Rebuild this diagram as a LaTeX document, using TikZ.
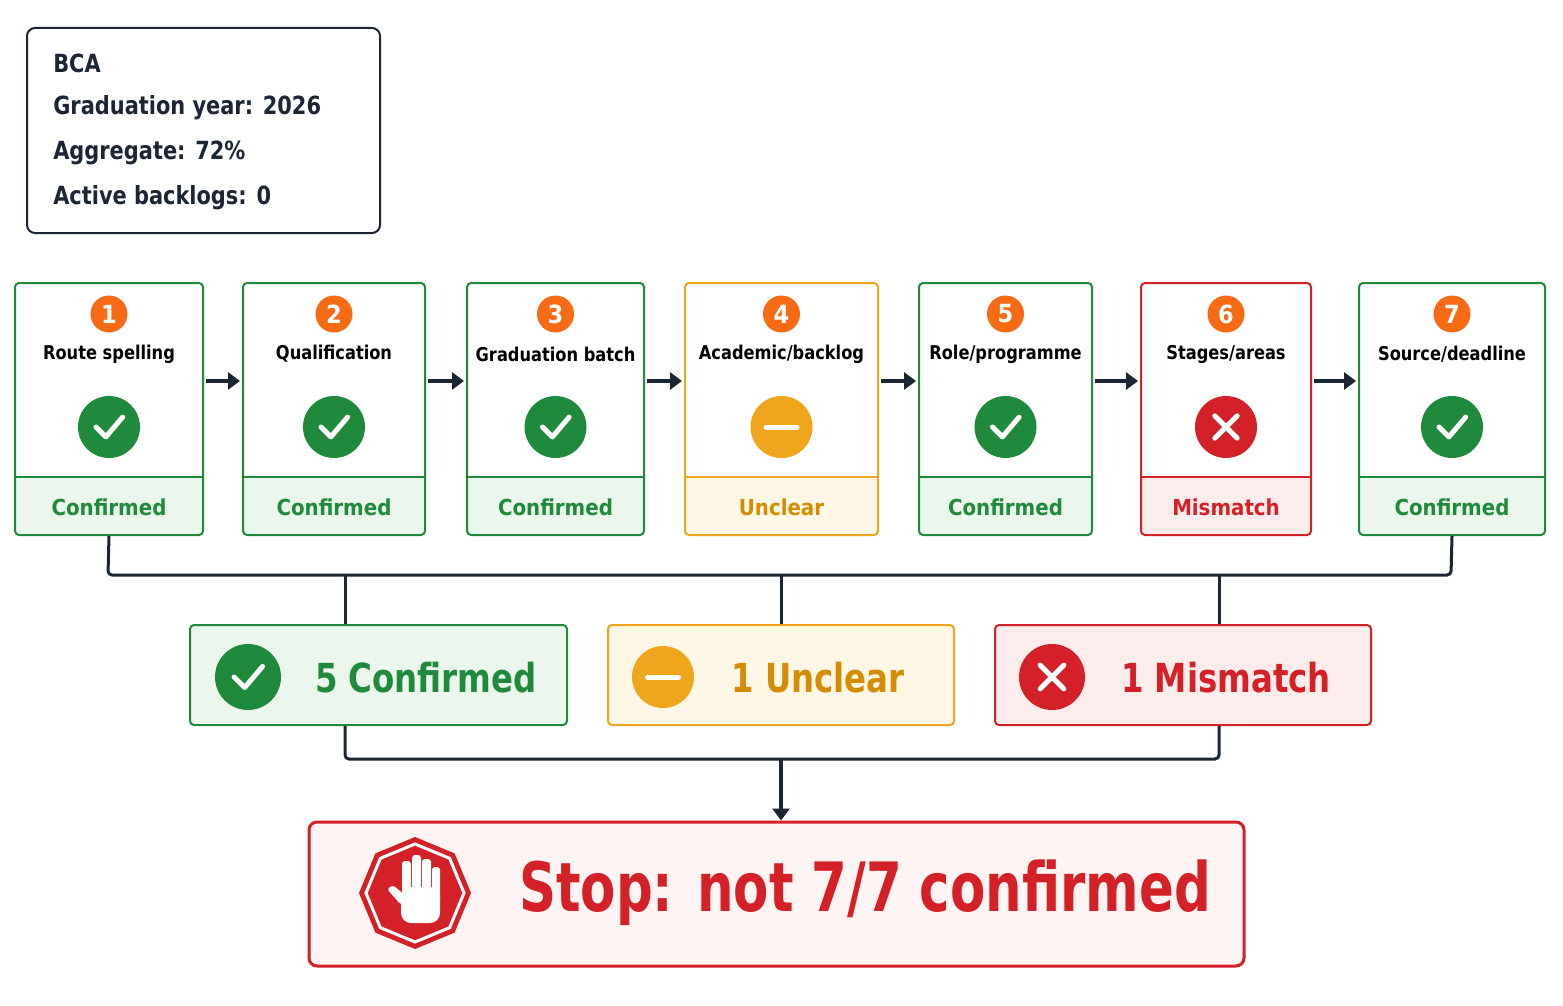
\documentclass[tikz,border=0pt]{standalone}
\usepackage{fontspec}
\setmainfont{DejaVu Sans Condensed}
\usetikzlibrary{arrows.meta,shapes.geometric,calc}
\definecolor{gr}{HTML}{1F8A3B}
\definecolor{grl}{HTML}{EBF6EC}
\definecolor{yl}{HTML}{EFA51C}
\definecolor{ylt}{HTML}{D48C00}
\definecolor{yll}{HTML}{FFF7E6}
\definecolor{rd}{HTML}{D42027}
\definecolor{rdl}{HTML}{FDECEC}
\definecolor{og}{HTML}{F76B15}
\definecolor{nv}{HTML}{1C2533}
\tikzset{
 step/.style={draw=#1,line width=2pt,rounded corners=4pt},
 num/.style={circle,fill=og,text=white,minimum size=37pt,inner sep=0pt,font=\fontsize{25}{25}\selectfont\bfseries},
 ttl/.style={font=\fontsize{19}{19}\selectfont\bfseries,text=black,xscale=0.95},
 stat/.style={font=\fontsize{22}{22}\selectfont\bfseries,text=#1},
 sumt/.style={font=\fontsize{40}{40}\selectfont\bfseries,text=#1,xscale=0.9},
 ico/.style 2 args={circle,fill=#1,minimum size=#2,inner sep=0pt},
 conn/.style={draw=nv,line width=3pt},
 arr/.style={draw=nv,line width=3.5pt,-{Triangle[length=12pt,width=17pt]}}}
\newcommand\unicon[3]{\node[ico={yl}{#3}] (#2) at #1 {};
 \draw[white,line width=5pt,line cap=round] ($(#2)+(-0.25*#3,0)$) -- ($(#2)+(0.25*#3,0)$);}
\newcommand\xicon[3]{\node[ico={rd}{#3}] (#2) at #1 {};
 \draw[white,line width=5pt,line cap=round] ($(#2)+(-0.18*#3,-0.18*#3)$) -- ($(#2)+(0.18*#3,0.18*#3)$) ($(#2)+(-0.18*#3,0.18*#3)$) -- ($(#2)+(0.18*#3,-0.18*#3)$);}
\newcommand\okiconS[3]{\node[ico={gr}{#3}] (#2) at #1 {};
 \draw[white,line width=5pt,line cap=round,line join=round] ($(#2)+(-0.21*#3,0)$) -- ($(#2)+(-0.05*#3,0.16*#3)$) -- ($(#2)+(0.22*#3,-0.16*#3)$);}
\begin{document}
\begin{tikzpicture}[x=1pt,y=-1pt]
\useasboundingbox (0,0) rectangle (1563,1006);
\fill[white] (0,0) rectangle (1563,1006);
% info box
\node[draw=nv,line width=2pt,rounded corners=8pt,minimum width=353pt,minimum height=205pt] (info) at (203.5,130.5) {};
\foreach \t [count=\i] in {BCA,Graduation year: 2026,Aggregate: 72\%,Active backlogs: 0}
 \node[anchor=west,font=\fontsize{25}{25}\selectfont\bfseries,text=nv,xscale=0.93] (info\i) at (50,18+45*\i) {\t};
% step boxes
\foreach \i/\l/\r/\c/\fc/\tc/\ti/\st in {
 1/15/203/gr/grl/gr/Route spelling/Confirmed,
 2/243/425/gr/grl/gr/Qualification/Confirmed,
 3/467/644/gr/grl/gr/Graduation batch/Confirmed,
 4/685/878/yl/yll/ylt/Academic\slash backlog/Unclear,
 5/919/1092/gr/grl/gr/Role\slash programme/Confirmed,
 6/1141/1311/rd/rdl/rd/Stages\slash areas/Mismatch,
 7/1359/1545/gr/grl/gr/Source\slash deadline/Confirmed}{
 \fill[\fc,rounded corners=4pt] (\l,477) rectangle (\r,535);
 \fill[\fc] (\l+1,477) rectangle (\r-1,490);
 \node[step=\c,minimum width={\r-\l},minimum height=252pt] (b\i) at ({(\l+\r)/2},409) {};
 \draw[\c,line width=1.5pt] (\l,477) -- (\r,477);
 \node[num] (n\i) at ({(\l+\r)/2},314) {\i};
 \node[ttl] (t\i) at ({(\l+\r)/2},354) {\ti};
 \node[stat=\tc] (s\i) at ({(\l+\r)/2},507) {\st};
 \coordinate (ic\i) at ({(\l+\r)/2},427);
}
\foreach \i in {1,2,3,5,7} {\okiconS{(ic\i)}{i\i}{62}}
\unicon{(ic4)}{i4}{62}
\xicon{(ic6)}{i6}{62}
\foreach \a/\b in {1/2,2/3,3/4,4/5,5/6,6/7}
 \draw[arr] ([xshift=2pt,yshift=28pt]b\a.east) -- ([xshift=-2pt,yshift=28pt]b\b.west);
% summary boxes
\node[draw=gr,fill=grl,line width=2pt,rounded corners=4pt,minimum width=377pt,minimum height=100pt] (sg) at (378.5,675) {};
\node[draw=yl,fill=yll,line width=2pt,rounded corners=4pt,minimum width=346pt,minimum height=100pt] (sy) at (781,675) {};
\node[draw=rd,fill=rdl,line width=2pt,rounded corners=4pt,minimum width=376pt,minimum height=100pt] (sr) at (1183,675) {};
\okiconS{(248,677)}{cg}{66}
\unicon{(663,677)}{cy}{62}
\xicon{(1052,677)}{cr}{66}
\node[sumt=gr] (tg) at (426,678) {5 Confirmed};
\node[sumt=ylt] (ty) at (818,678) {1 Unclear};
\node[sumt=rd] (tr) at (1226,678) {1 Mismatch};
% connectors
\draw[conn,rounded corners=4pt] (b1.south) -- (108,575) -- (1451,575) -- (b7.south);
\draw[conn] (345,575) -- (sg.north-|345,0);
\draw[conn] (781,575) -- (sy.north);
\draw[conn] (1219,575) -- (sr.north-|1219,0);
\draw[conn,rounded corners=4pt] (sg.south-|345,0) -- (345,759) -- (1219,759) -- (sr.south-|1219,0);
% stop box
\node[draw=rd,fill=rdl!60,line width=3pt,rounded corners=8pt,minimum width=935pt,minimum height=144pt] (stop) at (776.5,894) {};
\coordinate (j) at (781,759);
\draw[arr] (j) -- (stop.north-|j);
\node[regular polygon,regular polygon sides=8,shape border rotate=22.5,fill=rd,minimum size=112pt,inner sep=0pt] (oct) at (415,893) {};
\node[regular polygon,regular polygon sides=8,shape border rotate=22.5,draw=white,line width=3pt,minimum size=98pt,inner sep=0pt] (oct2) at (415,893) {};
\begin{scope}[shift={(415,897)},fill=white]
 \fill[rounded corners=3pt] (-13,-36) rectangle (-4,0);
 \fill[rounded corners=3pt] (-3,-42) rectangle (6,0);
 \fill[rounded corners=3pt] (7,-38) rectangle (16,0);
 \fill[rounded corners=3pt] (17,-30) rectangle (25,5);
 \fill[rounded corners=10pt] (-14,-10) rectangle (25,26);
 \fill[rounded corners=3pt] (-14,8) -- (-28,-8) -- (-22,-12) -- (-8,0) -- cycle;
\end{scope}
\node[font=\fontsize{68}{68}\selectfont\bfseries,text=rd,xscale=0.84] (stopt) at (865,893) {Stop: not 7/7 confirmed};
\end{tikzpicture}
\end{document}
